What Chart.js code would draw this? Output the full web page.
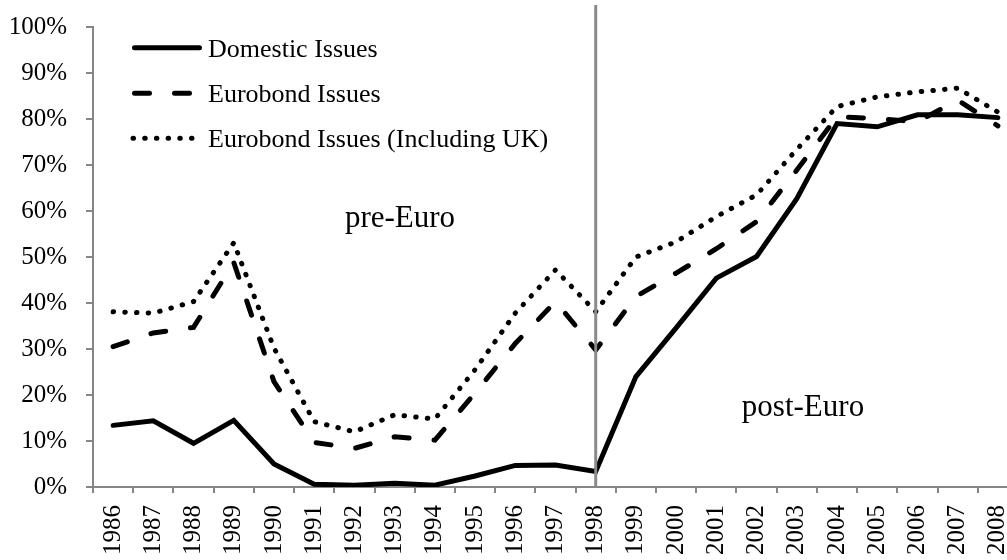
<!DOCTYPE html>
<html>
<head>
<meta charset="utf-8">
<script src="https://cdn.jsdelivr.net/npm/chart.js@4"></script>
<style>
  body { margin: 0; overflow: hidden; background: #fff; }
  #wrap { position: absolute; left: 0; top: 0; width: 1018px; height: 560px; }
</style>
</head>
<body>
<div id="wrap"><canvas id="shareChart"></canvas></div>
<script>
// years on the x axis
const years = ["1986", "1987", "1988", "1989", "1990", "1991", "1992", "1993", "1994", "1995", "1996",
  "1997", "1998", "1999", "2000", "2001", "2002", "2003", "2004", "2005", "2006", "2007", "2008"];

// shares in percent
const domesticIssues = [13.4, 14.4, 9.5, 14.5, 5.0, 0.6, 0.4, 0.8, 0.4, 2.4, 4.7, 4.8,
  3.4, 24.0, 34.6, 45.4, 50.1, 62.7, 79.0, 78.3, 80.9, 80.9, 80.3];
const eurobondIssues = [30.5, 33.5, 34.7, 48.8, 22.9, 9.7, 8.4, 10.9, 10.2, 20.4, 31.2, 40.3,
  29.8, 41.4, 46.5, 51.8, 57.7, 68.9, 80.5, 80.1, 79.4, 84.1, 78.5];
const eurobondInclUK = [38.1, 37.8, 40.3, 53.1, 30.2, 14.2, 12.0, 15.7, 14.8, 25.5, 37.8, 47.2,
  38.1, 50.0, 53.3, 58.8, 63.5, 73.4, 82.7, 84.8, 85.9, 86.7, 81.5];

const seriesNames = ["Domestic Issues", "Eurobond Issues", "Eurobond Issues (Including UK)"];
const yTicks = [0, 10, 20, 30, 40, 50, 60, 70, 80, 90, 100];
const euroYear = "1998";

const axisGrey = "#868686";
const serif = "'Liberation Serif', 'Times New Roman', serif";

// draws the grey euro line, the period labels and the legend
const extrasPlugin = {
  id: "extras",
  afterDatasetsDraw(chart) {
    const ctx = chart.ctx;
    const x = chart.scales.x.getPixelForValue(years.indexOf(euroYear));
    const bottom = chart.chartArea.bottom;

    ctx.save();
    ctx.strokeStyle = "#8a8a8a";
    ctx.lineWidth = 3;
    ctx.beginPath();
    ctx.moveTo(x, 5);
    ctx.lineTo(x, bottom);
    ctx.stroke();

    ctx.fillStyle = "#000";
    ctx.font = "31px " + serif;
    ctx.textAlign = "center";
    ctx.textBaseline = "alphabetic";
    ctx.fillText("pre-Euro", 400, 227);
    ctx.fillText("post-Euro", 803, 416);

    // legend
    const rows = [47.7, 93.3, 138.3];
    chart.data.datasets.forEach((ds, i) => {
      const y = rows[i];
      ctx.strokeStyle = ds.borderColor;
      ctx.lineWidth = ds.borderWidth;
      ctx.lineCap = "round";
      ctx.setLineDash(ds.borderDash || []);
      ctx.beginPath();
      if (i === 2) {
        ctx.moveTo(133, y);
        ctx.lineTo(193, y);
      } else {
        ctx.moveTo(134.5, y);
        ctx.lineTo(199.5, y);
      }
      ctx.stroke();
      ctx.setLineDash([]);
      ctx.font = "26px " + serif;
      ctx.textAlign = "left";
      ctx.fillText(ds.label, 208, y + 9);
    });
    ctx.restore();
  },
};

const ctx = document.getElementById("shareChart");

new Chart(ctx, {
  type: "line",
  data: {
    labels: years,
    datasets: [
      {
        label: seriesNames[0],
        data: domesticIssues,
        borderColor: "#000",
        borderWidth: 5,
        borderCapStyle: "round",
        borderJoinStyle: "miter",
        pointRadius: 0,
        tension: 0,
      },
      {
        label: seriesNames[1],
        data: eurobondIssues,
        borderColor: "#000",
        borderWidth: 5,
        borderDash: [15, 25],
        borderCapStyle: "round",
        pointRadius: 0,
        tension: 0,
      },
      {
        label: seriesNames[2],
        data: eurobondInclUK,
        borderColor: "#000",
        borderWidth: 5,
        borderDash: [0.5, 11.2],
        borderCapStyle: "round",
        pointRadius: 0,
        tension: 0,
      },
    ],
  },
  options: {
    responsive: true,
    maintainAspectRatio: false,
    animation: false,
    layout: { padding: { top: 27, left: 0, right: 0, bottom: 0 } },
    plugins: {
      legend: { display: false },
      tooltip: { enabled: false },
    },
    scales: {
      x: {
        offset: true,
        grid: {
          offset: true,
          drawOnChartArea: false,
          drawTicks: true,
          tickLength: 6,
          color: axisGrey,
          lineWidth: 2,
        },
        border: { display: true, color: axisGrey, width: 2 },
        ticks: {
          autoSkip: false,
          maxRotation: 90,
          minRotation: 90,
          padding: 12,
          color: "#000",
          font: { family: serif, size: 25 },
        },
        afterFit(scale) {
          // the plot runs past the right edge of the window, as in the source
          scale.height = 73;
          scale.paddingLeft = 0;
          scale.paddingRight = 0;
        },
      },
      y: {
        min: yTicks[0],
        max: yTicks[yTicks.length - 1],
        afterBuildTicks(scale) {
          scale.ticks = yTicks.map((v) => ({ value: v }));
        },
        grid: {
          drawOnChartArea: false,
          drawTicks: true,
          tickLength: 7,
          color: axisGrey,
          lineWidth: 2,
        },
        border: { display: true, color: axisGrey, width: 2 },
        ticks: {
          padding: 19,
          color: "#000",
          font: { family: serif, size: 25 },
          callback: (v) => v + "%",
        },
        afterFit(scale) {
          scale.width = 93;
          scale.paddingTop = 0;
          scale.paddingBottom = 0;
        },
      },
    },
  },
  plugins: [extrasPlugin],
});
</script>
</body>
</html>
